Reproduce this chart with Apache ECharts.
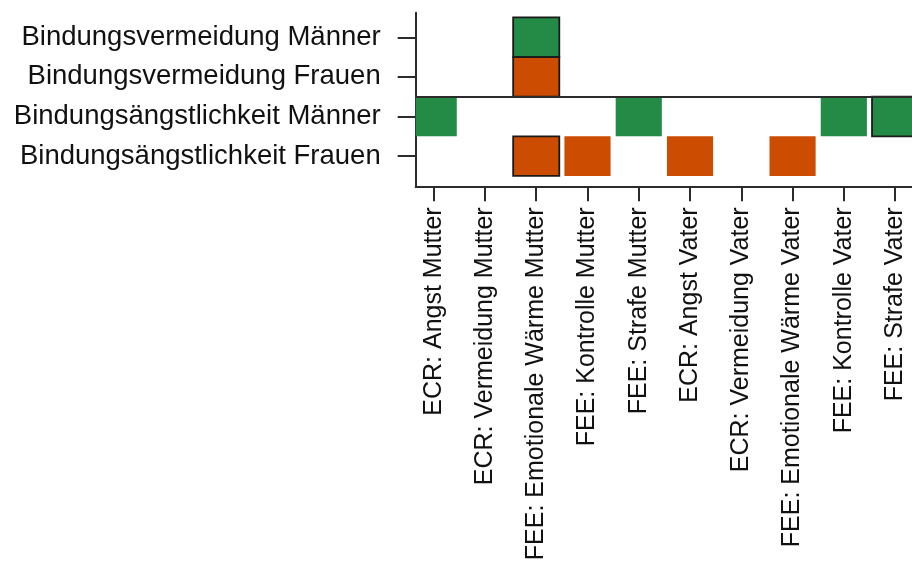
<!DOCTYPE html>
<html>
<head>
<meta charset="utf-8">
<script src="https://cdn.jsdelivr.net/npm/echarts@6/dist/echarts.min.js"></script>
<style>
html,body{margin:0;padding:0;background:#fff;}
#chart{width:912px;height:562px;}
</style>
</head>
<body>
<div id="chart"></div>
<script>
// Column categories (x positions 1..10)
const columns = [
  'ECR: Angst Mutter',
  'ECR: Vermeidung Mutter',
  'FEE: Emotionale Wärme Mutter',
  'FEE: Kontrolle Mutter',
  'FEE: Strafe Mutter',
  'ECR: Angst Vater',
  'ECR: Vermeidung Vater',
  'FEE: Emotionale Wärme Vater',
  'FEE: Kontrolle Vater',
  'FEE: Strafe Vater'
];
// Row categories (y positions 1..4, bottom to top)
const rows = [
  'Bindungsängstlichkeit Frauen',
  'Bindungsängstlichkeit Männer',
  'Bindungsvermeidung Frauen',
  'Bindungsvermeidung Männer'
];
const xTicks = [1, 2, 3, 4, 5, 6, 7, 8, 9, 10];
const yTicks = [1, 2, 3, 4];

// Marked columns per row
const avoidanceMen = [3];
const avoidanceWomen = [3];
const anxietyMen = [1, 5, 9, 10];
const anxietyWomen = [3, 4, 6, 8];

// Cells with an outline: [column, row]
const outlined = [[3, 4], [3, 3], [10, 2], [3, 1]];

// Separator between the two row groups
const separatorY = 2.5;

const GREEN = '#238b45';
const ORANGE = '#cc4c02';

function isOutlined(c, r) {
  return outlined.some(o => o[0] === c && o[1] === r) ? 1 : 0;
}
const cells = [];
avoidanceMen.forEach(c => cells.push([c, 4, 1, isOutlined(c, 4)]));
avoidanceWomen.forEach(c => cells.push([c, 3, 0, isOutlined(c, 3)]));
anxietyMen.forEach(c => cells.push([c, 2, 1, isOutlined(c, 2)]));
anxietyWomen.forEach(c => cells.push([c, 1, 0, isOutlined(c, 1)]));

const chart = echarts.init(document.getElementById('chart'), null, {renderer: 'canvas'});
const axisColor = '#2b2b2b';
const fontFamily = '"Liberation Sans", Arial, Helvetica, sans-serif';

chart.setOption({
  animation: false,
  backgroundColor: '#ffffff',
  grid: {
    left: 415.7, right: -40, top: 12.7, bottom: 375.7,
    containLabel: false,
    outerBoundsMode: 'none'
  },
  xAxis: {
    type: 'value',
    min: 0.649,
    max: 11.11,
    axisLine: {show: true, onZero: false, lineStyle: {color: axisColor, width: 2}},
    axisTick: {show: true, length: 15, customValues: xTicks, lineStyle: {color: axisColor, width: 2}},
    axisLabel: {
      customValues: xTicks,
      rotate: 90,
      margin: 21,
      fontSize: 25,
      fontFamily: fontFamily,
      color: '#111',
      formatter: v => columns[Math.round(v) - 1] || ''
    },
    splitLine: {show: false}
  },
  yAxis: {
    type: 'value',
    min: 0.237,
    max: 4.62,
    axisLine: {show: true, onZero: false, lineStyle: {color: axisColor, width: 2}},
    axisTick: {show: true, length: 18, customValues: yTicks, lineStyle: {color: axisColor, width: 2}},
    axisLabel: {
      customValues: yTicks,
      margin: 35,
      fontSize: 27.5,
      fontFamily: fontFamily,
      color: '#111',
      formatter: v => rows[Math.round(v) - 1] || ''
    },
    splitLine: {show: false}
  },
  series: [{
    type: 'custom',
    data: cells,
    encode: {x: 0, y: 1},
    renderItem: function (params, api) {
      const c = api.coord([api.value(0), api.value(1)]);
      const s = api.size([0.9, 1]);
      const rect = echarts.graphic.clipRectByRect(
        {x: c[0] - s[0] / 2, y: c[1] - s[1] / 2, width: s[0], height: s[1]},
        {x: params.coordSys.x, y: params.coordSys.y, width: params.coordSys.width, height: params.coordSys.height}
      );
      if (!rect) return;
      const bordered = api.value(3) === 1;
      return {
        type: 'rect',
        shape: rect,
        style: {
          fill: api.value(2) === 1 ? GREEN : ORANGE,
          stroke: bordered ? '#1a1a1a' : null,
          lineWidth: bordered ? 1.8 : 0
        }
      };
    },
    markLine: {
      silent: true,
      symbol: ['none', 'none'],
      label: {show: false},
      lineStyle: {color: axisColor, width: 2, type: 'solid'},
      data: [{yAxis: separatorY}]
    }
  }]
});
</script>
</body>
</html>
